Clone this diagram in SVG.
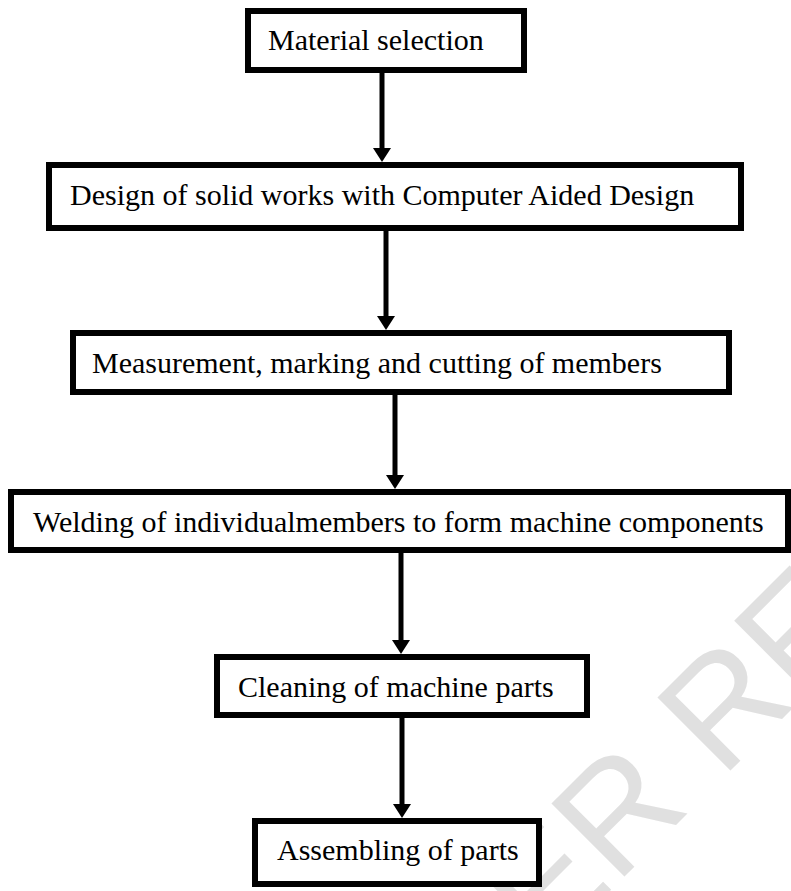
<svg xmlns="http://www.w3.org/2000/svg" width="791" height="891" viewBox="0 0 791 891">
<style>
.box{fill:#fff;stroke:#000;stroke-width:6}
.lbl{font-family:"Liberation Serif","Times New Roman",serif;font-size:30px;fill:#000}
.conn{stroke:#000;stroke-width:5;fill:none}
.wm{font-family:"Liberation Sans",Arial,sans-serif;font-size:150px;fill:#e0e0e0}
</style>
<defs>
<marker id="ah" markerUnits="userSpaceOnUse" markerWidth="14" markerHeight="18" viewBox="0 0 14 18" refX="0" refY="9" orient="auto">
<path d="M0,0 L14,9 L0,18 Z" fill="#000"/>
</marker>
</defs>
<rect width="791" height="891" fill="#fff"/>
<text class="wm" x="545" y="956" transform="rotate(-45 545 956)">ER RE</text>
<g id="connectors">
<line class="conn" x1="382" y1="73" x2="382" y2="148" marker-end="url(#ah)"/>
<line class="conn" x1="386" y1="231" x2="386" y2="316" marker-end="url(#ah)"/>
<line class="conn" x1="395" y1="395" x2="395" y2="475" marker-end="url(#ah)"/>
<line class="conn" x1="401" y1="553" x2="401" y2="640" marker-end="url(#ah)"/>
<line class="conn" x1="402" y1="718" x2="402" y2="804" marker-end="url(#ah)"/>
</g>
<g id="n1"><rect class="box" x="248" y="11" width="276" height="59"/><text class="lbl" x="268" y="50">Material selection</text></g>
<g id="n2"><rect class="box" x="49" y="165" width="692" height="63"/><text class="lbl" x="70" y="205">Design of solid works with Computer Aided Design</text></g>
<g id="n3"><rect class="box" x="73" y="333" width="656" height="59"/><text class="lbl" x="92" y="373">Measurement, marking and cutting of members</text></g>
<g id="n4"><rect class="box" x="11" y="492" width="777" height="58"/><text class="lbl" x="33" y="532">Welding of individualmembers to form machine components</text></g>
<g id="n5"><rect class="box" x="217" y="657" width="370" height="58"/><text class="lbl" x="238" y="697">Cleaning of machine parts</text></g>
<g id="n6"><rect class="box" x="255" y="821" width="284" height="63"/><text class="lbl" x="277" y="860">Assembling of parts</text></g>
</svg>
